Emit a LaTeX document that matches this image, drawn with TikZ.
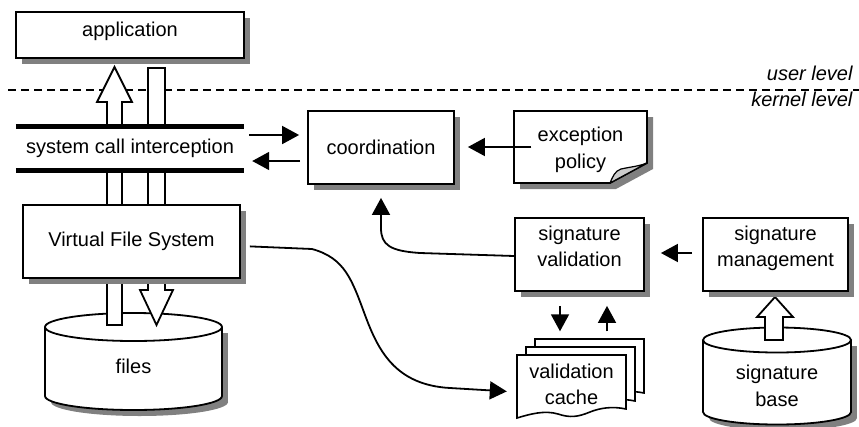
\documentclass[tikz,border=0pt]{standalone}
\usepackage{fontspec}
\setmainfont{Liberation Sans}
\usetikzlibrary{arrows.meta,shadows,calc}
\begin{document}
\begin{tikzpicture}[x=1pt,y=-1pt,
  font=\fontsize{20}{26.5}\selectfont,
  box/.style={draw, line width=1.8pt, fill=white, inner sep=0pt, align=center,
    drop shadow={shadow xshift=6pt,shadow yshift=-6pt,fill=black!50,opacity=1}},
  arr/.style={line width=1.8pt, -{Triangle[length=17pt,width=18pt]}},
  hollow/.style={draw, line width=1.8pt, fill=white, line join=miter},
  cyl/.style={line width=1.8pt},
  shade/.style={fill=black!50},
  sheet/.pic={\draw[line width=1.6pt, fill=white] (0,0) -- (109,0) -- (109,54)
     .. controls (95,51) and (83,53) .. (73,57) .. controls (61,62) and (53,63) .. (41,59)
     .. controls (28,55) and (13,59) .. (0,63) -- cycle;}
]
\useasboundingbox (0,0) rectangle (859,426);

% level separator
\draw[line width=1.5pt, dash pattern=on 8pt off 5pt] (8,90) -- (859,90);
\node[anchor=base east, font=\fontsize{20}{24}\selectfont\itshape] (ul) at (856,80) {user level};
\node[anchor=base east, font=\fontsize{20}{24}\selectfont\itshape] (kl) at (856,106) {kernel level};

% files cylinder
\fill[shade] (139.5,402) ellipse (88.5 and 14);
\fill[shade] (51,333) rectangle (228,402);
\draw[cyl, fill=white] (133.5,396) ellipse (88.5 and 14);
\fill[white] (45,327) rectangle (222,396);
\draw[cyl] (45,327) -- (45,396);
\draw[cyl] (222,327) -- (222,396);
\draw[cyl, fill=white] (133.5,327) ellipse (88.5 and 14);
\node (files) at (133.5,366) {files};

% signature base cylinder
\fill[shade] (783,418) ellipse (74 and 12.5);
\fill[shade] (709,346) rectangle (857,418);
\draw[cyl, fill=white] (777,412) ellipse (74 and 12.5);
\fill[white] (703,340) rectangle (851,412);
\draw[cyl] (703,340) -- (703,412);
\draw[cyl] (851,340) -- (851,412);
\draw[cyl, fill=white] (777,340) ellipse (74 and 12.5);
\node[align=center] (sigbase) at (777,386) {signature\\base};

% block arrows
\draw[hollow] (107,325) -- (107,102) -- (97,102) -- (114.5,67) -- (132,102) -- (122,102) -- (122,325) -- cycle;
\draw[hollow] (148,68) -- (165,68) -- (165,290) -- (173,290) -- (156.5,325) -- (140,290) -- (148,290) -- cycle;
\draw[hollow] (765,340) -- (765,317) -- (757,317) -- (775,297) -- (793,317) -- (783,317) -- (783,340) -- cycle;

% boxes
\node[box, minimum width=228pt, minimum height=46pt, text height=16pt, text depth=14pt] (app) at (130,35) {application};
\node[fill=white, minimum width=228pt, minimum height=43pt, inner sep=0pt] (syscall) at (130,148.5) {system call interception};
\draw[line width=5pt] (syscall.north west) -- (syscall.north east);
\draw[line width=5pt] (syscall.south west) -- (syscall.south east);
\node[box, minimum width=217pt, minimum height=73pt] (vfs) at (131.5,241.5) {Virtual File System};
\node[box, minimum width=146pt, minimum height=73pt] (coord) at (381,147.5) {coordination};
\node[box, minimum width=129pt, minimum height=73pt, text height=40pt, text depth=16pt] (sigval) at (579.5,254.5) {signature\\validation};
\node[box, minimum width=145pt, minimum height=73pt, text height=40pt, text depth=16pt] (sigman) at (775.5,254.5) {signature\\management};

% exception policy (folded note)
\fill[shade] (520,117) -- (653,117) -- (653,169) -- (616,189) -- (520,189) -- cycle;
\draw[line width=1.8pt, fill=white, line join=miter] (514,111) -- (647,111) -- (647,163) -- (610,183) -- (514,183) -- cycle;
\draw[line width=1.2pt, fill=black!20, line join=round] (610,183) .. controls (613,176) and (615,171) .. (621,169)
   .. controls (630,167) and (640,166) .. (647,163) -- cycle;
\node[align=center, text height=46.5pt, text depth=4pt, inner sep=0pt] (policy) at (580.5,147) {exception\\policy};

% validation cache (stacked sheets)
\pic at (535,339) {sheet};
\pic at (526,347) {sheet};
\pic at (517,355) {sheet};
\node[align=center, minimum width=109pt, minimum height=62pt, inner sep=0pt] (cache) at (571.5,384.5) {validation\\cache};

% connectors
\draw[arr, shorten <=5pt, shorten >=8pt] (syscall.east |- 0,135) -- (coord.west |- 0,135);
\draw[arr, shorten <=7pt, shorten >=8pt] (coord.west |- 0,161) -- (syscall.east |- 0,161);
\draw[arr, shorten <=6pt, shorten >=13pt] (policy.west |- 0,147) -- (coord.east |- 0,147);
\draw[arr, shorten <=10pt, shorten >=16pt] (sigman.west |- 0,253) -- (sigval.east |- 0,253);
\draw[arr, shorten <=14pt, shorten >=22pt] (sigval.south -| 560,0) -- (cache.north -| 560,0);
\draw[arr, shorten <=22pt, shorten >=14pt] (cache.north -| 607,0) -- (sigval.south -| 607,0);
\draw[arr, shorten >=13pt] (sigval.west |- 0,256) -- (420,253) .. controls (390,251) and (381,245) .. (381,228) -- (coord.south -| 381,0);
\draw[arr, shorten <=9pt, shorten >=10pt] (vfs.east |- 0,246) -- (312,249) .. controls (345,258) and (352,280) .. (365,315)
   .. controls (378,350) and (395,385) .. (450,388) -- (cache.west |- 0,392);
\end{tikzpicture}
\end{document}
